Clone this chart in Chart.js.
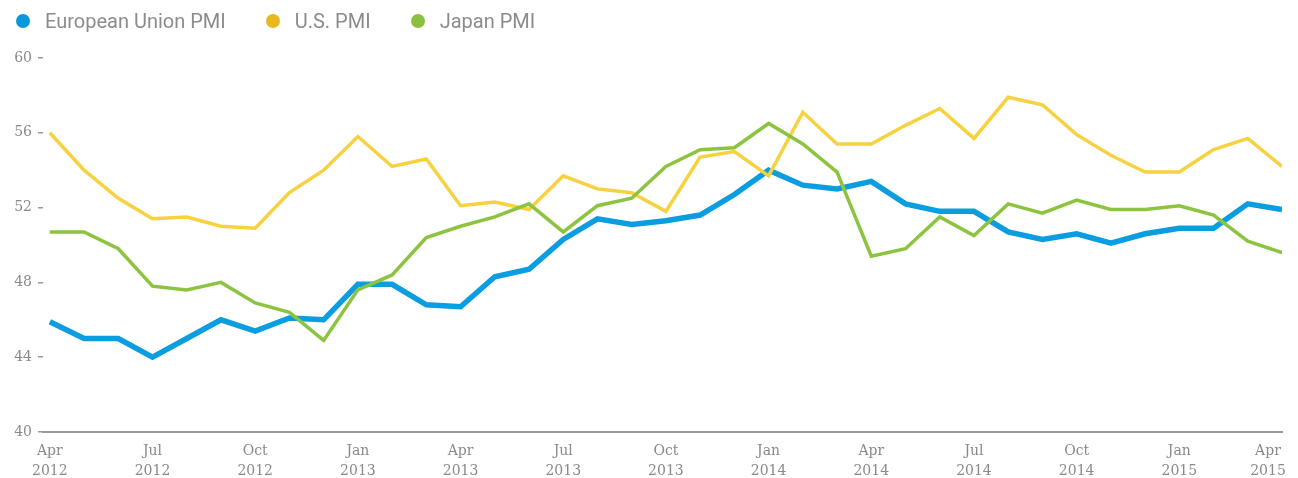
<!DOCTYPE html>
<html>
<head>
<meta charset="utf-8">
<script src="https://cdn.jsdelivr.net/npm/chart.js@4.4.1/dist/chart.umd.min.js"></script>
<style>
    html, body { margin: 0; padding: 0; background: #fff; }
    #wrap { position: relative; width: 1298px; height: 478px; }
    #legend {
        position: absolute; left: 16px; top: 9px; display: flex; align-items: center;
        font-family: Roboto, sans-serif; font-size: 20px; color: #8c8c8c;
    }
    .item { display: flex; align-items: center; margin-right: 40px; }
    .dot { width: 14px; height: 14px; border-radius: 50%; margin-right: 15px; }
</style>
</head>
<body>
<div id="wrap">
    <canvas id="pmiChart" width="1298" height="478"></canvas>
    <div id="legend"></div>
</div>
<script>
// Monthly categories, Apr 2012 - Apr 2015
const months = [
    'Apr 2012', 'May 2012', 'Jun 2012', 'Jul 2012', 'Aug 2012', 'Sep 2012', 'Oct 2012', 'Nov 2012', 'Dec 2012',
    'Jan 2013', 'Feb 2013', 'Mar 2013', 'Apr 2013', 'May 2013', 'Jun 2013', 'Jul 2013', 'Aug 2013', 'Sep 2013',
    'Oct 2013', 'Nov 2013', 'Dec 2013', 'Jan 2014', 'Feb 2014', 'Mar 2014', 'Apr 2014', 'May 2014', 'Jun 2014',
    'Jul 2014', 'Aug 2014', 'Sep 2014', 'Oct 2014', 'Nov 2014', 'Dec 2014', 'Jan 2015', 'Feb 2015', 'Mar 2015',
    'Apr 2015'
];

const euPmi = [45.9, 45.0, 45.0, 44.0, 45.0, 46.0, 45.4, 46.1, 46.0, 47.9, 47.9, 46.8, 46.7, 48.3, 48.7, 50.3,
    51.4, 51.1, 51.3, 51.6, 52.7, 54.0, 53.2, 53.0, 53.4, 52.2, 51.8, 51.8, 50.7, 50.3, 50.6, 50.1, 50.6, 50.9,
    50.9, 52.2, 51.9];
const usPmi = [56.0, 54.0, 52.5, 51.4, 51.5, 51.0, 50.9, 52.8, 54.0, 55.8, 54.2, 54.6, 52.1, 52.3, 51.9, 53.7,
    53.0, 52.8, 51.8, 54.7, 55.0, 53.7, 57.1, 55.4, 55.4, 56.4, 57.3, 55.7, 57.9, 57.5, 55.9, 54.8, 53.9, 53.9,
    55.1, 55.7, 54.2];
const japanPmi = [50.7, 50.7, 49.8, 47.8, 47.6, 48.0, 46.9, 46.4, 44.9, 47.6, 48.4, 50.4, 51.0, 51.5, 52.2, 50.7,
    52.1, 52.5, 54.2, 55.1, 55.2, 56.5, 55.4, 53.9, 49.4, 49.8, 51.5, 50.5, 52.2, 51.7, 52.4, 51.9, 51.9, 52.1,
    51.6, 50.2, 49.6];

const seriesNames = ['European Union PMI', 'U.S. PMI', 'Japan PMI'];
const yTicks = [40, 44, 48, 52, 56, 60];
const xTickEvery = 3;

const lineColors = ['#0a9de0', '#f8d13f', '#8dc43f'];
const dotColors = ['#0a98dc', '#e9b821', '#8bc13e'];

const toPoints = arr => arr.map((v, i) => ({ x: i, y: v }));

// Legend (html, above the plot)
document.getElementById('legend').innerHTML = seriesNames.map((name, i) => `
    <div class="item"><span class="dot" style="background:${dotColors[i]}"></span>${name}</div>
`).join('');

// x labels on two lines; the last one is nudged left so it stays inside the canvas
function xLabel(v) {
    if (!months[v]) return '';
    const lines = months[v].split(' ');
    return v === months.length - 1 ? lines.map(s => s + '\u2002\u2002\u2002\u2002') : lines;
}

const tickFont = { family: '"DejaVu Serif", serif', size: 14, lineHeight: 1.43 };

new Chart(document.getElementById('pmiChart').getContext('2d'), {
    type: 'line',
    data: {
        datasets: [
            { label: seriesNames[0], data: toPoints(euPmi), borderColor: lineColors[0], borderWidth: 5.5, order: 3 },
            { label: seriesNames[1], data: toPoints(usPmi), borderColor: lineColors[1], borderWidth: 3.5, order: 2 },
            { label: seriesNames[2], data: toPoints(japanPmi), borderColor: lineColors[2], borderWidth: 3.5, order: 1 }
        ]
    },
    options: {
        responsive: false,
        animation: false,
        layout: { padding: { top: 58, right: 16, left: 0, bottom: 0 } },
        elements: {
            point: { radius: 0 },
            line: { tension: 0, fill: false }
        },
        plugins: {
            legend: { display: false },
            tooltip: { enabled: false }
        },
        scales: {
            x: {
                type: 'linear',
                min: -0.2,
                max: months.length - 1,
                afterBuildTicks: s => {
                    s.ticks = months.map((m, i) => ({ value: i })).filter(t => t.value % xTickEvery === 0);
                },
                afterFit: s => { s.height = 46; s.paddingLeft = 0; s.paddingRight = 0; },
                grid: { display: false, drawTicks: false },
                border: { display: true, color: '#9a9a9a', width: 2 },
                ticks: {
                    color: '#8a8a8a',
                    font: tickFont,
                    padding: 9,
                    maxRotation: 0,
                    autoSkip: false,
                    callback: xLabel
                }
            },
            y: {
                min: yTicks[0],
                max: yTicks[yTicks.length - 1],
                afterBuildTicks: s => { s.ticks = yTicks.map(v => ({ value: v })); },
                afterFit: s => { s.width = 43; s.paddingTop = 0; s.paddingBottom = 0; },
                grid: { drawOnChartArea: false, drawTicks: true, tickLength: 5, color: '#9a9a9a', lineWidth: 1.5 },
                border: { display: false },
                ticks: { color: '#8a8a8a', font: { family: '"DejaVu Serif", serif', size: 14 }, padding: 6 }
            }
        }
    }
});
</script>
</body>
</html>
